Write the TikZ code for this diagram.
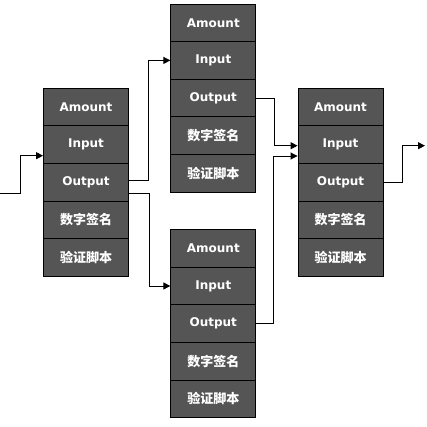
\documentclass[tikz,border=0pt]{standalone}
\usepackage{fontspec}
\setmainfont{DejaVu Sans}
\newfontfamily\cjk{Noto Sans CJK SC}
\usetikzlibrary{arrows.meta}
\definecolor{cellgray}{RGB}{85,85,85}

\begin{document}
\begin{tikzpicture}[>={Triangle[width=7pt,length=7pt]}, line width=0.9pt,
  cell/.style={draw=black, fill=cellgray, text=white, font=\fontsize{12pt}{14pt}\selectfont\bfseries, minimum width=85pt, minimum height=37.6pt, inner sep=0pt},
  cncell/.style={cell, font=\fontsize{13pt}{15pt}\selectfont\cjk\bfseries}]
  \useasboundingbox (0pt, 0pt) rectangle (426pt, -427pt);
  % left transaction
  \draw (86.0pt, -107.1pt)node[cell](A1){Amount};
  \draw (86.0pt, -144.7pt)node[cell](A2){Input};
  \draw (86.0pt, -182.3pt)node[cell](A3){Output};
  \draw (86.0pt, -219.9pt)node[cncell](A4){数字签名};
  \draw (86.0pt, -257.5pt)node[cncell](A5){验证脚本};
  % upper transaction
  \draw (213.3pt, -22.8pt)node[cell](B1){Amount};
  \draw (213.3pt, -60.4pt)node[cell](B2){Input};
  \draw (213.3pt, -98.0pt)node[cell](B3){Output};
  \draw (213.3pt, -135.6pt)node[cncell](B4){数字签名};
  \draw (213.3pt, -173.2pt)node[cncell](B5){验证脚本};
  % lower transaction
  \draw (213.3pt, -248.4pt)node[cell](C1){Amount};
  \draw (213.3pt, -286.0pt)node[cell](C2){Input};
  \draw (213.3pt, -323.6pt)node[cell](C3){Output};
  \draw (213.3pt, -361.2pt)node[cncell](C4){数字签名};
  \draw (213.3pt, -398.8pt)node[cncell](C5){验证脚本};
  % right transaction
  \draw (340.5pt, -107.1pt)node[cell](D1){Amount};
  \draw (340.5pt, -144.7pt)node[cell](D2){Input};
  \draw (340.5pt, -182.3pt)node[cell](D3){Output};
  \draw (340.5pt, -219.9pt)node[cncell](D4){数字签名};
  \draw (340.5pt, -257.5pt)node[cncell](D5){验证脚本};
  \coordinate (in) at (0pt, -193.0pt);
  \coordinate (out) at (425.0pt, -145.7pt);
  \draw[->] (in) -- ++(20.5pt, 0pt) |- ([yshift=-11pt]A2.west);
  \draw[->] ([yshift=2pt]A3.east) -- ++(19pt, 0pt) |- (B2.west);
  \draw[->] ([yshift=-10.7pt]A3.east) -- ++(20pt, 0pt) |- (C2.west);
  \draw[->] (B3.east) -- ++(18.3pt, 0pt) |- ([yshift=-1pt]D2.west);
  \draw[->] (C3.east) -- ++(16.7pt, 0pt) |- ([yshift=-11.3pt]D2.west);
  \draw[->] (D3.east) -- ++(19.2pt, 0pt) |- (out);
\end{tikzpicture}
\end{document}
